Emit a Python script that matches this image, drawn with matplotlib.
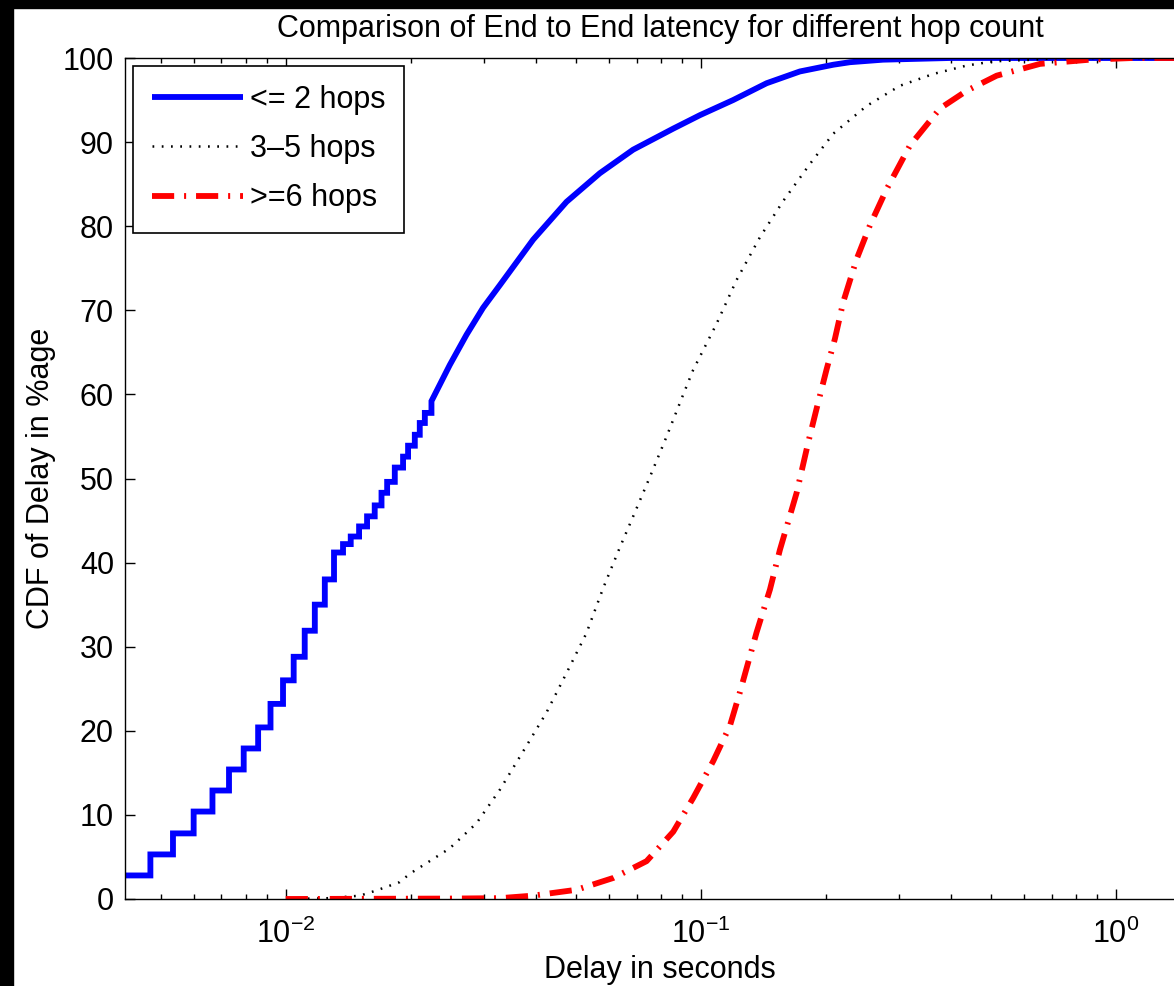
import numpy as np
import matplotlib
matplotlib.use("Agg")
import matplotlib.pyplot as plt
from matplotlib.patches import Rectangle
from matplotlib.ticker import LogLocator, NullFormatter, MultipleLocator

plt.rcParams['font.family'] = ['Liberation Sans', 'DejaVu Sans']
plt.rcParams['mathtext.fontset'] = 'custom'
plt.rcParams['mathtext.rm'] = 'Liberation Sans'
plt.rcParams['mathtext.it'] = 'Liberation Sans'

# <= 2 hops: stair part (delay where each step starts, level), then smooth part
blue_step_delay = [0.0040, 0.00472, 0.00535, 0.0060, 0.00666, 0.0073, 0.00792,
                   0.00858, 0.00919, 0.00985, 0.01045, 0.01111, 0.01175, 0.01242,
                   0.01307, 0.01374, 0.01434, 0.01502, 0.01570, 0.01638, 0.01701,
                   0.01755, 0.01831, 0.01917, 0.01971, 0.02046, 0.02103, 0.02163,
                   0.02244]
blue_step_cdf = [2.8, 5.3, 7.8, 10.4, 12.9, 15.4, 17.9, 20.4, 23.2, 26.0, 28.8,
                 31.9, 35.0, 38.0, 41.2, 42.2, 43.1, 44.3, 45.5, 46.8, 48.3, 49.6,
                 51.3, 52.6, 53.9, 55.2, 56.6, 57.8, 59.2]
blue_delay = [0.02484, 0.02726, 0.02988, 0.0328, 0.03944, 0.04747, 0.0571,
              0.06869, 0.08577, 0.09945, 0.1196, 0.144, 0.1732, 0.2084, 0.2286,
              0.2746, 0.398, 1.55]
blue_cdf = [63.5, 67.1, 70.3, 73.0, 78.4, 82.9, 86.3, 89.1, 91.6, 93.2, 95.0,
            97.0, 98.4, 99.2, 99.5, 99.8, 100.0, 100.0]

# 3-5 hops
black_delay = [0.0102, 0.0128, 0.0151, 0.0165, 0.0188, 0.0199, 0.0248, 0.0288,
               0.0328, 0.0380, 0.0425, 0.0475, 0.0530, 0.0582, 0.0638, 0.0687,
               0.0754, 0.0827, 0.0907, 0.0958, 0.1091, 0.1219, 0.1388, 0.1579,
               0.1831, 0.2084, 0.2508, 0.3017, 0.3629, 0.4367, 0.5062, 0.631,
               0.733, 1.55]
black_cdf = [0.0, 0.1, 0.4, 1.0, 2.0, 3.0, 6.0, 9.0, 13.0, 18.2, 22.2, 26.9,
             31.6, 37.0, 41.8, 45.5, 50.2, 55.0, 60.0, 62.9, 68.4, 73.6, 78.7,
             83.0, 87.4, 91.0, 94.3, 96.7, 98.1, 99.1, 99.6, 99.8, 100.0, 100.0]

# >= 6 hops
red_delay = [0.0100, 0.0248, 0.0328, 0.0394, 0.0502, 0.0615, 0.0740, 0.0858,
             0.0958, 0.1071, 0.1175, 0.1242, 0.1362, 0.1467, 0.1550, 0.1701,
             0.1814, 0.1900, 0.2009, 0.2103, 0.2203, 0.2373, 0.2554, 0.2802,
             0.3189, 0.3767, 0.4367, 0.5159, 0.6561, 0.8654, 1.099, 1.55]
red_cdf = [0.0, 0.05, 0.1, 0.4, 1.1, 2.5, 4.5, 8.0, 12.0, 16.4, 20.6, 24.6,
           31.7, 36.8, 41.5, 48.3, 54.3, 58.3, 63.0, 66.6, 71.0, 76.1, 80.1,
           84.4, 89.6, 94.0, 96.1, 97.9, 99.3, 99.8, 100.0, 100.0]

labels = ['<= 2 hops', '3–5 hops', '>=6 hops']

FS = 22
W, H = 1174, 986
fig = plt.figure(figsize=(W / 100, H / 100), dpi=100, facecolor='white')
# black frame strips on left and top of the screenshot
fig.add_artist(Rectangle((0, 0), 13 / W, 1, transform=fig.transFigure,
                         color='black', zorder=0))
fig.add_artist(Rectangle((0, 1 - 8 / H), 1, 8 / H, transform=fig.transFigure,
                         color='black', zorder=0))

ax = fig.add_axes([125 / W, (H - 899) / H, (1195 - 125) / W, (899 - 58) / H])

# build stair vertices from the step lists
sx = np.repeat(blue_step_delay, 2)[1:]
sy = np.repeat(blue_step_cdf, 2)[:-1]
bx = np.concatenate([sx, blue_delay])
by = np.concatenate([sy, blue_cdf])

ax.plot(bx, by, color='#0000ff', lw=4.2, solid_joinstyle='miter',
        solid_capstyle='butt', label=labels[0])
ax.plot(black_delay, black_cdf, color='black', lw=1.8,
        linestyle=(0, (0.7, 3.0)), dash_capstyle='butt', label=labels[1])
ax.plot(red_delay, red_cdf, color='#ff0000', lw=4.2,
        linestyle=(0, (3.8, 1.7, 0.35, 1.7)), dash_capstyle='butt',
        label=labels[2])

ax.set_xscale('log')
ax.set_xlim(0.0041, 1.55)
ax.set_ylim(0, 100)
ax.yaxis.set_major_locator(MultipleLocator(10))
ax.xaxis.set_major_locator(LogLocator(base=10, numticks=10))
ax.xaxis.set_minor_locator(LogLocator(base=10, subs=np.arange(2, 10), numticks=20))
ax.xaxis.set_minor_formatter(NullFormatter())

ax.tick_params(which='both', direction='in', top=True, right=True,
               labelsize=FS, width=1.0)
ax.tick_params(which='major', length=7.2)
ax.tick_params(which='minor', length=3.6)
ax.tick_params(axis='y', pad=8)
ax.tick_params(axis='x', pad=14)
for sp in ax.spines.values():
    sp.set_linewidth(1.0)

ax.set_title('Comparison of End to End latency for different hop count',
             fontsize=FS, pad=15)
ax.set_xlabel('Delay in seconds', fontsize=FS, labelpad=4)
ax.set_ylabel('CDF of Delay in %age', fontsize=FS, labelpad=5)

leg = ax.legend(loc='upper left', fontsize=FS, fancybox=False, framealpha=1,
                edgecolor='black', borderaxespad=0.25, handlelength=2.97,
                handletextpad=0.23, labelspacing=0.63, borderpad=0.63)
leg.get_frame().set_linewidth(1.2)

fig.savefig('out.png', dpi=100, facecolor=fig.get_facecolor())
